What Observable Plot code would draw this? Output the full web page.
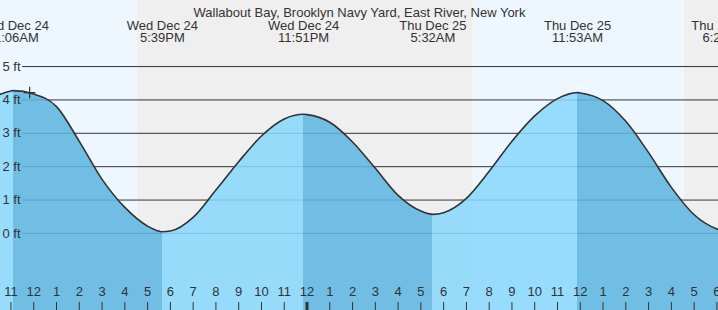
<!DOCTYPE html>
<html>
<head>
<meta charset="utf-8">
<script src="https://cdn.jsdelivr.net/npm/d3@7"></script>
<script src="https://cdn.jsdelivr.net/npm/@observablehq/plot@0.6"></script>
<style>
html,body{margin:0;padding:0;background:#fff;overflow:hidden}
svg{overflow:hidden;display:block}
</style>
</head>
<body>
<div id="chart"></div>
<script>
// Title
const title = "Wallabout Bay, Brooklyn Navy Yard, East River, New York";

// Time axis in hours since Wed Dec 24 00:00
const xDomain = [10.54, 42.07];
const yDomain = [-2.31, 6.98];

// Hourly water level readings (ft)
const readingHours = [10, 11, 12, 13, 14, 15, 16, 17, 18, 19, 20, 21, 22, 23, 24, 25, 26, 27, 28, 29, 30, 31, 32, 33, 34, 35, 36, 37, 38, 39, 40, 41, 42];
const readingFeet  = [4.00, 4.27, 4.18, 3.80, 2.76, 1.62, 0.78, 0.22, 0.07, 0.48, 1.30, 2.15, 2.92, 3.43, 3.56, 3.33, 2.74, 1.95, 1.14, 0.67, 0.62, 1.05, 1.86, 2.76, 3.52, 4.04, 4.21, 3.98, 3.36, 2.42, 1.38, 0.56, 0.13];

// High / low tide extremes
const extremeHours = [11.1, 17.65, 23.85, 29.53, 35.88, 42.35];
const extremeFeet  = [4.28, 0.05, 3.57, 0.57, 4.22, 0.05];
const extremeTypes = ["high", "low", "high", "low", "high", "low"];
const extremeDays  = ["Wed Dec 24", "Wed Dec 24", "Wed Dec 24", "Thu Dec 25", "Thu Dec 25", "Thu Dec 25"];
const extremeTimes = ["11:06AM", "5:39PM", "11:51PM", "5:32AM", "11:53AM", "6:21PM"];

// Day / night background bands
const bandStarts = [10, 16.55, 31.30, 40.57];
const bandEnds   = [16.55, 31.30, 40.57, 43];
const bandKinds  = ["day", "night", "day", "night"];

// Hour ticks
const hourTicks  = [11, 12, 13, 14, 15, 16, 17, 18, 19, 20, 21, 22, 23, 24, 25, 26, 27, 28, 29, 30, 31, 32, 33, 34, 35, 36, 37, 38, 39, 40, 41, 42];
const hourLabels = ["11", "12", "1", "2", "3", "4", "5", "6", "7", "8", "9", "10", "11", "12", "1", "2", "3", "4", "5", "6", "7", "8", "9", "10", "11", "12", "1", "2", "3", "4", "5", "6"];
const midnightHours = [24];

// Height ticks
const yTicks  = [0, 1, 2, 3, 4, 5];
const yLabels = ["0 ft", "1 ft", "2 ft", "3 ft", "4 ft", "5 ft"];

// Current-time marker
const nowHours = [11.82];
const nowFeet  = [4.22];

// Colours
const dayBg = "#eef7ff", nightBg = "#efefef";
const risingFill = "#8ad8fd", fallingFill = "#5eb6e1";
const fillAlpha = 0.87;
const ink = "#333333";

// Build tables
const bands = bandStarts.map((s, i) => ({start: s, end: bandEnds[i], fill: bandKinds[i] === "day" ? dayBg : nightBg}));
const points = readingHours.map((h, i) => ({h, ft: readingFeet[i]}))
  .concat(extremeHours.map((h, i) => ({h, ft: extremeFeet[i]})))
  .sort((a, b) => a.h - b.h);
const segRows = [];
for (let k = 0; k <= extremeHours.length; k++) {
  const start = k === 0 ? -Infinity : extremeHours[k - 1];
  const end = k === extremeHours.length ? Infinity : extremeHours[k];
  const falling = k > 0 && extremeTypes[k - 1] === "high";
  points.filter(p => p.h >= start && p.h <= end)
    .forEach(p => segRows.push({h: p.h, ft: p.ft, seg: k, fill: falling ? fallingFill : risingFill}));
}
const extremes = extremeHours.map((h, i) => ({h, day: extremeDays[i], time: extremeTimes[i]}));
const hours = hourTicks.map((h, i) => ({h, label: hourLabels[i]}));
const ys = yTicks.map((v, i) => ({v, label: yLabels[i]}));
const now = nowHours.map((h, i) => ({h, ft: nowFeet[i]}));

const font = 13;
const chart = Plot.plot({
  width: 718,
  height: 310,
  margin: 0,
  style: {fontFamily: "'Liberation Sans', Arial, sans-serif", fontSize: "13px", background: "transparent", overflow: "hidden"},
  x: {domain: xDomain, axis: null},
  y: {domain: yDomain, axis: null},
  color: {type: "identity"},
  marks: [
    Plot.rect(bands, {x1: "start", x2: "end", fill: "fill"}),
    Plot.ruleY(ys, {y: "v", insetLeft: 22, stroke: ink, strokeWidth: 1}),
    Plot.areaY(segRows, {x: "h", y1: yDomain[0], y2: "ft", z: "seg", fill: "fill", fillOpacity: fillAlpha, curve: "monotone-x", shapeRendering: "crispEdges"}),
    Plot.line(points, {x: "h", y: "ft", curve: "monotone-x", stroke: ink, strokeWidth: 1.6}),
    Plot.tickX(hours, {x: "h", insetTop: 302, stroke: ink, strokeWidth: 1}),
    Plot.tickX(midnightHours, {x: d => d, insetTop: 302, stroke: ink, strokeWidth: 3}),
    Plot.text(hours, {x: "h", text: "label", frameAnchor: "bottom", dy: -14.2, fill: ink, fontSize: font}),
    Plot.text(ys, {y: "v", text: "label", frameAnchor: "left", textAnchor: "start", dx: 2, fill: ink, fontSize: font}),
    Plot.text(extremes, {x: "h", text: "day", frameAnchor: "top", dy: 20.3, fill: ink, fontSize: font}),
    Plot.text(extremes, {x: "h", text: "time", frameAnchor: "top", dy: 32.3, fill: ink, fontSize: font}),
    Plot.text([title], {text: d => d, frameAnchor: "top", dy: 7.3, fill: ink, fontSize: font}),
    Plot.dot(now, {x: "h", y: "ft", symbol: "plus", r: 3.8, stroke: ink, strokeWidth: 1.2})
  ]
});
document.getElementById("chart").appendChild(chart);
</script>
</body>
</html>
